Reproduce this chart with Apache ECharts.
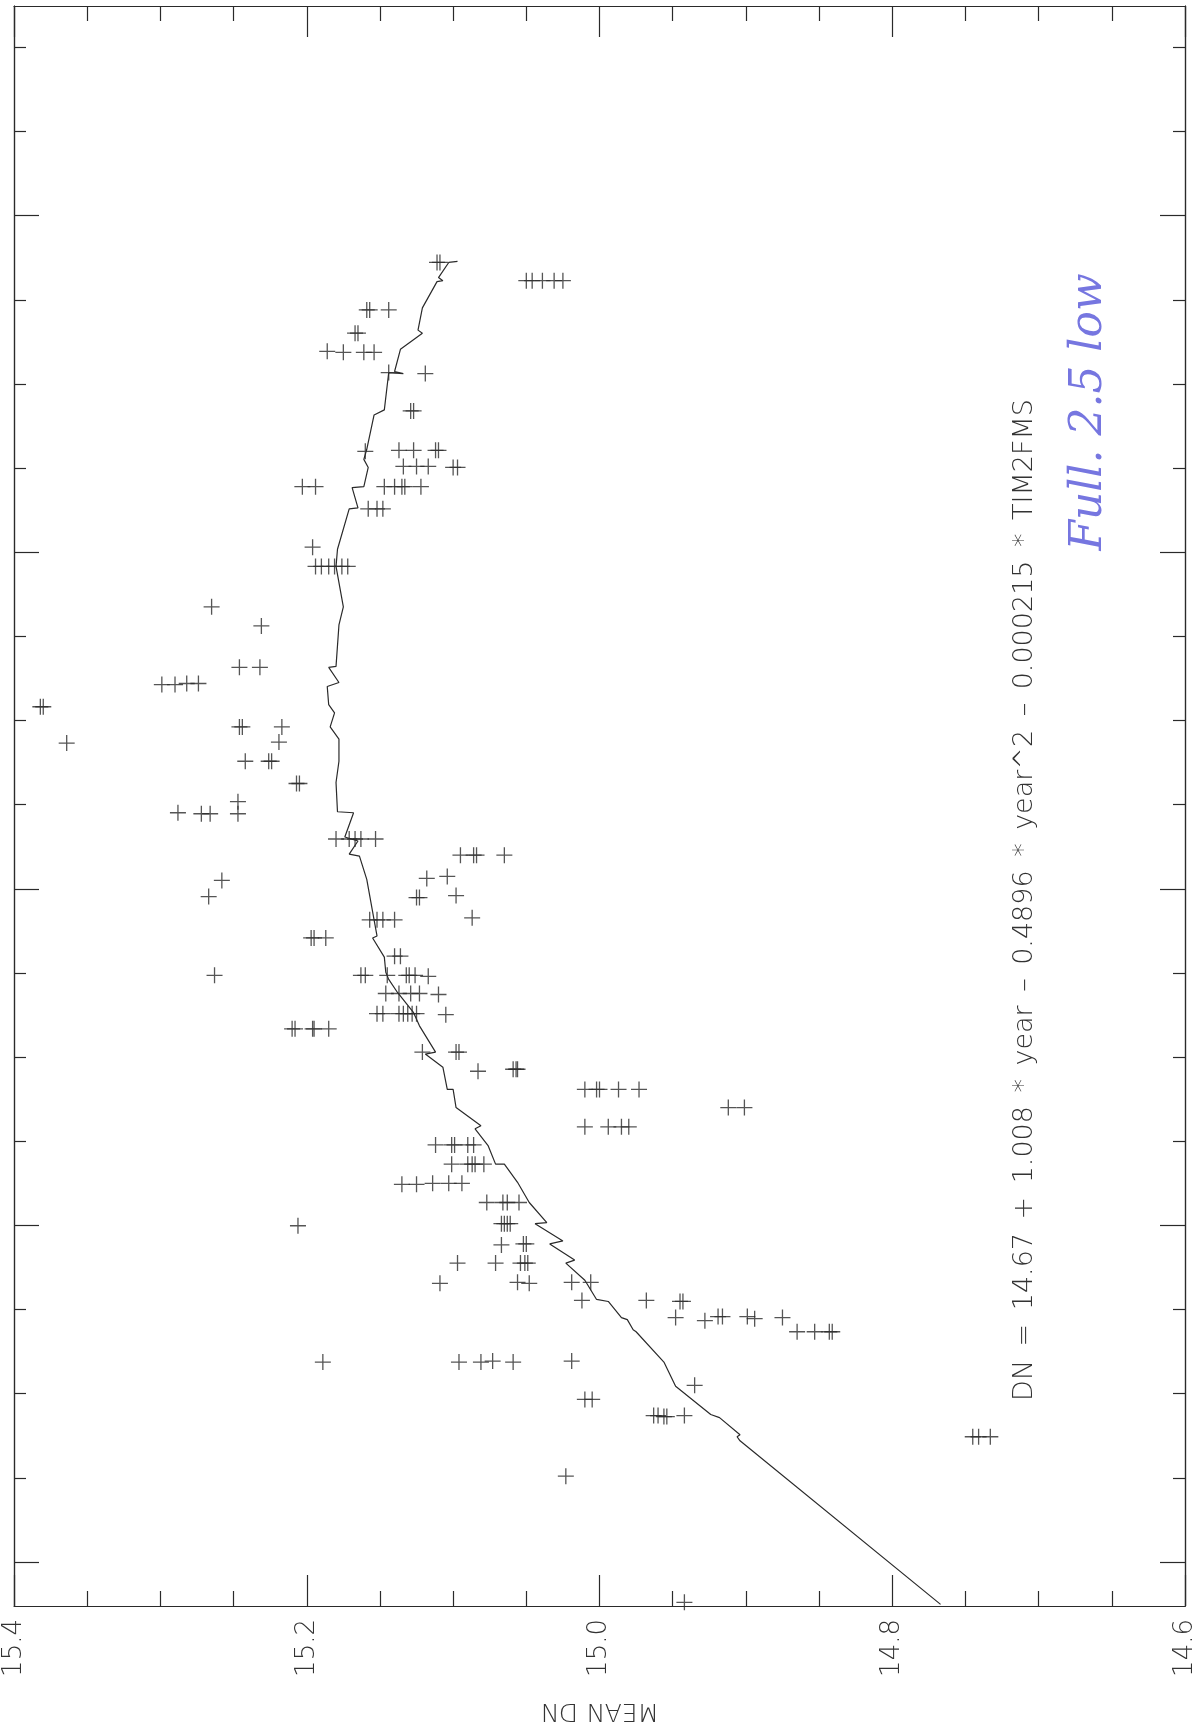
<!DOCTYPE html>
<html><head><meta charset="utf-8">
<script src="https://cdn.jsdelivr.net/npm/echarts@6/dist/echarts.min.js"></script>
<style>html,body{margin:0;padding:0;background:#fff}#c{width:1198px;height:1728px}</style>
</head><body><div id="c"></div>
<script>
// MEAN DN axis ticks (labelled)
const dnTicks = [14.6, 14.8, 15.0, 15.2, 15.4];
// unlabelled time axis ticks (year)
const yearMajorTicks = [0.2, 0.5333, 0.8667, 1.2, 1.5333];
const yearMinorTicks = [0.2833, 0.3667, 0.45, 0.6167, 0.7, 0.7833, 0.95, 1.0333, 1.1167, 1.2833, 1.3667, 1.45, 1.6167, 1.7];

// observed points: MEAN DN and year
const obsDN = [
  15.050, 15.046, 15.039, 15.031, 15.025,
  15.111, 15.109,
  15.159, 15.157, 15.144,
  15.167, 15.165,
  15.186, 15.175, 15.161, 15.154,
  15.144, 15.119,
  15.129, 15.127,
  15.160, 15.137, 15.127, 15.112, 15.110,
  15.134, 15.125, 15.117, 15.100, 15.097,
  15.203, 15.194,
  15.147, 15.140, 15.135, 15.133, 15.122,
  15.158, 15.152, 15.148,
  15.196,
  15.194, 15.190, 15.185, 15.181, 15.176, 15.172,
  15.265,
  15.231,
  15.246, 15.232,
  15.299, 15.290, 15.282, 15.274,
  15.382, 15.380,
  15.246, 15.244, 15.217,
  15.364, 15.219,
  15.242, 15.226, 15.224,
  15.207, 15.205,
  15.247, 15.247,
  15.288, 15.272, 15.266,
  15.180, 15.171, 15.167, 15.163, 15.153,
  15.095, 15.086, 15.084, 15.065,
  15.258, 15.118, 15.104,
  15.267, 15.125, 15.123, 15.098,
  15.087, 15.157, 15.152, 15.148, 15.140,
  15.197, 15.195, 15.187,
  15.140, 15.136,
  15.263, 15.163, 15.160, 15.145, 15.132, 15.130, 15.126, 15.117,
  15.146, 15.137, 15.129, 15.123, 15.110,
  15.152, 15.148, 15.137, 15.134, 15.131, 15.128, 15.125, 15.105,
  15.210, 15.208, 15.196, 15.195, 15.185,
  15.121, 15.098, 15.096,
  15.083, 15.059, 15.057, 15.056,
  15.010, 15.002, 15.000, 14.987, 14.973,
  14.912, 14.901,
  15.010, 14.994, 14.985, 14.980,
  15.112, 15.101, 15.099, 15.090, 15.086,
  15.101, 15.090, 15.087, 15.085, 15.079,
  15.135, 15.125, 15.114, 15.103, 15.094,
  15.077, 15.066, 15.063, 15.055,
  15.206, 15.067, 15.065, 15.063, 15.061,
  15.067, 15.052, 15.050,
  15.097, 15.071, 15.054, 15.051, 15.049,
  15.109, 15.056, 15.048, 15.019, 15.006,
  15.012, 14.968, 14.945, 14.943,
  14.948, 14.928, 14.919, 14.916, 14.899, 14.894, 14.875,
  14.865, 14.853, 14.843, 14.841,
  15.189, 15.096, 15.081, 15.073, 15.059, 15.019,
  14.935,
  15.010, 15.005,
  14.963, 14.960, 14.956, 14.954, 14.942,
  14.745, 14.741, 14.733,
  15.023,
  14.942
];
const obsYear = [
  1.469, 1.469, 1.469, 1.469, 1.469,
  1.487, 1.487,
  1.440, 1.440, 1.440,
  1.417, 1.417,
  1.399, 1.398, 1.398, 1.398,
  1.378, 1.377,
  1.340, 1.340,
  1.300, 1.301, 1.301, 1.301, 1.301,
  1.285, 1.285, 1.285, 1.284, 1.284,
  1.265, 1.265,
  1.265, 1.265, 1.265, 1.265, 1.265,
  1.243, 1.243, 1.243,
  1.205,
  1.186, 1.186, 1.186, 1.186, 1.186, 1.186,
  1.146,
  1.127,
  1.086, 1.086,
  1.069, 1.069, 1.070, 1.070,
  1.047, 1.047,
  1.027, 1.027, 1.027,
  1.011, 1.012,
  0.993, 0.993, 0.993,
  0.971, 0.971,
  0.953, 0.941,
  0.942, 0.941, 0.941,
  0.916, 0.916, 0.916, 0.916, 0.916,
  0.900, 0.900, 0.900, 0.900,
  0.875, 0.877, 0.879,
  0.859, 0.858, 0.858, 0.860,
  0.838, 0.836, 0.836, 0.836, 0.836,
  0.818, 0.818, 0.818,
  0.800, 0.800,
  0.781, 0.781, 0.781, 0.781, 0.781, 0.781, 0.781, 0.780,
  0.763, 0.763, 0.763, 0.763, 0.762,
  0.743, 0.743, 0.743, 0.743, 0.743, 0.743, 0.743, 0.742,
  0.728, 0.728, 0.728, 0.728, 0.728,
  0.705, 0.705, 0.705,
  0.686, 0.688, 0.688, 0.688,
  0.668, 0.668, 0.668, 0.668, 0.668,
  0.650, 0.650,
  0.631, 0.631, 0.631, 0.631,
  0.613, 0.613, 0.613, 0.613, 0.613,
  0.594, 0.594, 0.594, 0.594, 0.594,
  0.574, 0.574, 0.575, 0.575, 0.575,
  0.556, 0.556, 0.556, 0.556,
  0.533, 0.535, 0.535, 0.535, 0.535,
  0.514, 0.515, 0.515,
  0.496, 0.496, 0.496, 0.496, 0.496,
  0.476, 0.477, 0.476, 0.477, 0.477,
  0.459, 0.459, 0.458, 0.458,
  0.442, 0.439, 0.443, 0.443, 0.443, 0.441, 0.442,
  0.428, 0.428, 0.428, 0.428,
  0.398, 0.398, 0.398, 0.399, 0.398, 0.399,
  0.375,
  0.361, 0.361,
  0.345, 0.345, 0.344, 0.344, 0.345,
  0.324, 0.324, 0.324,
  0.285,
  0.160
];

// fitted model curve (DN = f(year, TIM2FMS))
const fitDN = [
  14.767, 14.904, 14.906, 14.904, 14.918, 14.924, 14.948, 14.956, 14.975, 14.977,
  14.981, 14.985, 14.994, 15.002, 15.010, 15.023, 15.017, 15.034, 15.025, 15.044,
  15.036, 15.048, 15.056, 15.065, 15.071, 15.076, 15.085, 15.081, 15.098, 15.100,
  15.104, 15.107, 15.119, 15.112, 15.123, 15.127, 15.138, 15.144, 15.146, 15.147,
  15.155, 15.152, 15.154, 15.159, 15.164, 15.171, 15.165, 15.174, 15.168, 15.179,
  15.180, 15.178, 15.178, 15.184, 15.181, 15.185, 15.186, 15.178, 15.185, 15.180,
  15.178, 15.175, 15.180, 15.179, 15.171, 15.165, 15.169, 15.161, 15.158, 15.161,
  15.159, 15.154, 15.147, 15.144, 15.134, 15.140, 15.136, 15.121, 15.124, 15.121,
  15.111, 15.107, 15.110, 15.103, 15.097
];
const fitYear = [
  0.158, 0.320, 0.324, 0.326, 0.343, 0.346, 0.374, 0.398, 0.428, 0.430,
  0.440, 0.442, 0.458, 0.460, 0.479, 0.496, 0.499, 0.515, 0.518, 0.535,
  0.536, 0.556, 0.576, 0.594, 0.594, 0.612, 0.629, 0.632, 0.650, 0.668,
  0.668, 0.690, 0.703, 0.705, 0.731, 0.744, 0.764, 0.777, 0.784, 0.799,
  0.818, 0.820, 0.836, 0.876, 0.899, 0.901, 0.914, 0.918, 0.942, 0.943,
  0.972, 0.993, 1.015, 1.027, 1.041, 1.049, 1.067, 1.071, 1.086, 1.087,
  1.128, 1.146, 1.186, 1.203, 1.243, 1.244, 1.264, 1.265, 1.284, 1.292,
  1.302, 1.336, 1.341, 1.378, 1.377, 1.379, 1.401, 1.417, 1.420, 1.442,
  1.468, 1.469, 1.472, 1.487, 1.488
];

const SP = '\u2002';
const equationText = ['DN', '=', '14.67', '+', '1.008', '*', 'year', '\u2013', '0.4896', '*', 'year^2', '\u2013', '0.000215', '*', 'TIM2FMS'].join(SP);
const noteText = 'Full. 2.5 low';

const ink = '#2a2a2a';
const font = 'DejaVu Sans';
const YMIN = 0.1564, YMAX = 1.741;

const obs = obsDN.map((d, i) => [d, obsYear[i]]);
const fit = fitDN.map((d, i) => [d, fitYear[i]]);

function xAx(pos, showLabel) {
  return {
    type: 'value', position: pos, min: 14.6, max: 15.4, interval: 0.2, inverse: true,
    axisLine: { show: true, onZero: false, lineStyle: { color: ink, width: 1.2 } },
    axisTick: { show: true, inside: true, length: 31, lineStyle: { color: ink, width: 1.2 } },
    minorTick: { show: true, splitNumber: 4, length: 15, lineStyle: { color: ink, width: 1.2 } },
    splitLine: { show: false }, minorSplitLine: { show: false },
    axisLabel: {
      show: showLabel, rotate: 90, margin: 13, color: '#333', fontSize: 26,
      fontFamily: font, fontWeight: 200,
      customValues: dnTicks,
      formatter: v => Number(v).toFixed(1)
    },
    name: showLabel ? 'MEAN DN' : '',
    nameLocation: 'middle', nameRotate: 180, nameGap: 92,
    nameTextStyle: { fontSize: 25, color: '#333', fontFamily: font, fontWeight: 200 }
  };
}
function yAx(pos, ticks, len) {
  return {
    type: 'value', position: pos, min: YMIN, max: YMAX,
    axisLine: { show: true, onZero: false, lineStyle: { color: ink, width: 1.2 } },
    axisTick: { show: true, inside: true, length: len, customValues: ticks, lineStyle: { color: ink, width: 1.2 } },
    axisLabel: { show: false },
    splitLine: { show: false }
  };
}

const chart = echarts.init(document.getElementById('c'), null, { renderer: 'canvas' });
chart.setOption({
  animation: false,
  backgroundColor: '#ffffff',
  grid: { left: 14, right: 1, top: 6, bottom: 121, containLabel: false },
  xAxis: [xAx('bottom', true), xAx('top', false)],
  yAxis: [
    yAx('left', yearMajorTicks, 25), yAx('left', yearMinorTicks, 12),
    yAx('right', yearMajorTicks, 25), yAx('right', yearMinorTicks, 12)
  ],
  series: [
    {
      type: 'line', data: fit, showSymbol: false, symbol: 'none',
      lineStyle: { color: ink, width: 1.2 }, silent: true, z: 2
    },
    {
      type: 'scatter', data: obs,
      symbol: 'path://M5 0 L5 10 M0 5 L10 5', symbolSize: 16,
      itemStyle: { color: 'none', borderColor: ink, borderWidth: 1.3 },
      silent: true, z: 3
    }
  ],
  graphic: [
    {
      type: 'text', x: 1025, y: 900, rotation: Math.PI / 2,
      style: { text: equationText, fill: '#333', fontSize: 27, fontFamily: font, fontWeight: 200,
               align: 'center', verticalAlign: 'middle' }
    },
    {
      type: 'text', x: 1090, y: 412, rotation: Math.PI / 2,
      style: { text: noteText, fill: '#7676e0', fontSize: 44, fontFamily: 'DejaVu Serif', fontStyle: 'italic',
               fontWeight: 200, align: 'center', verticalAlign: 'middle' }
    }
  ]
});
</script>
</body></html>
